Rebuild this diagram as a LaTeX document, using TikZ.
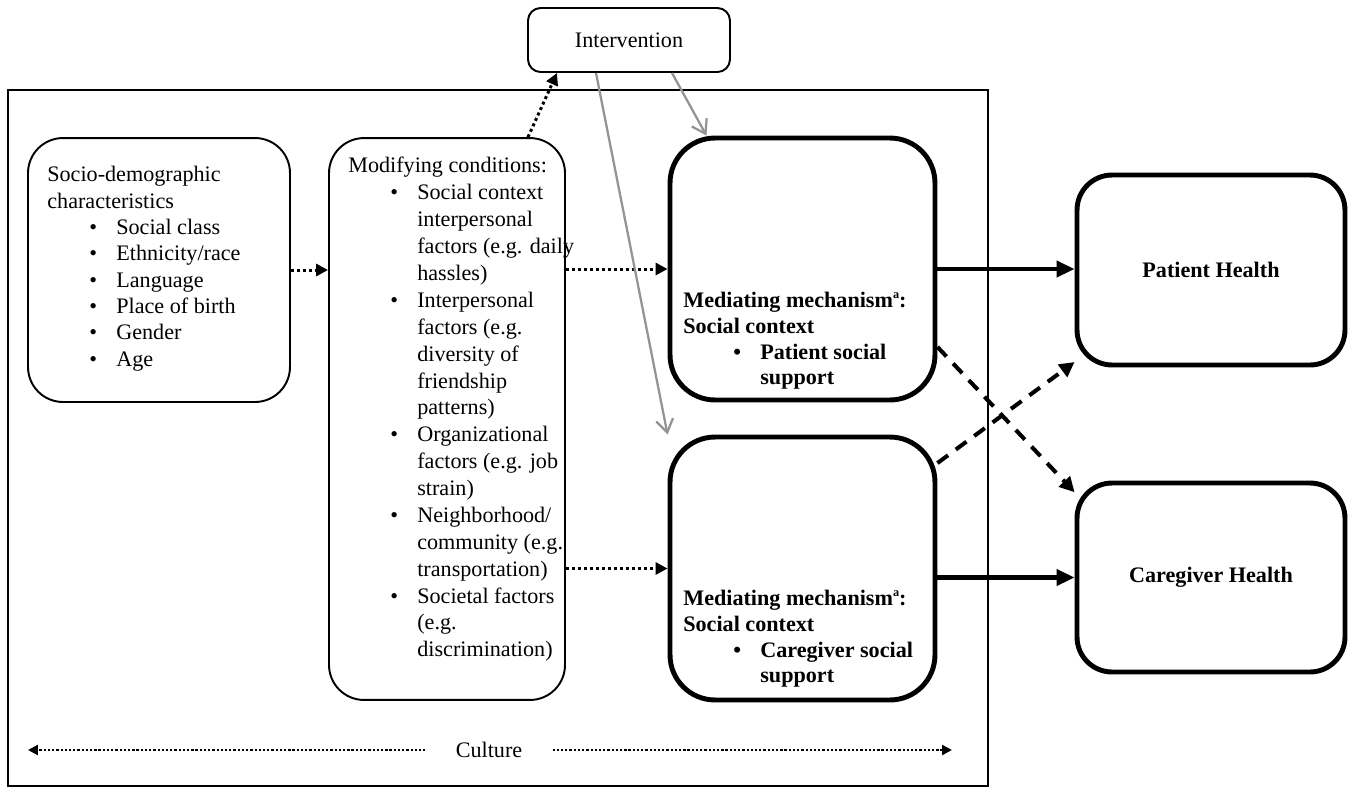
\documentclass[tikz,border=0pt]{standalone}
\usepackage{fontspec}
\setmainfont{Liberation Serif}
\usetikzlibrary{arrows.meta,calc}
\newcommand{\bl}[1]{\hspace*{0.84cm}\makebox[0.54cm][l]{\textbullet}#1}
\newcommand{\bc}[1]{\hspace*{1.38cm}#1}

\begin{document}
\begin{tikzpicture}[x=0.02cm,y=-0.02cm,
  every node/.style={font=\fontsize{12.6}{15}\selectfont},
  box/.style={draw, line width=1.1pt, rounded corners=0.7cm, inner sep=0},
  bigbox/.style={draw, line width=2.8pt, rounded corners=0.9cm, inner sep=0},
  txt/.style={align=left, anchor=north west, inner sep=0},
  dots/.style={line width=1.7pt, dash pattern=on 1.7pt off 1.7pt, -{Triangle[length=0.24cm,width=0.24cm]}},
  thinDots/.style={line width=1.3pt, dash pattern=on 1.3pt off 1.1pt, -{Triangle[length=0.2cm,width=0.2cm]}},
  thickArr/.style={line width=2.3pt, -{Triangle[length=0.36cm,width=0.32cm]}},
  dashArr/.style={line width=2.3pt, dash pattern=on 7.5pt off 5.5pt, -{Triangle[length=0.3cm,width=0.3cm]}},
  grayArr/.style={draw=black!42, line width=1.3pt, -{Straight Barb[length=0.26cm,width=0.34cm]}}]
  \useasboundingbox (0,0) rectangle (1353,789);
  \draw[line width=1pt] (8,90) rectangle (988,786);
  % boxes
  \node[box, rounded corners=0.25cm, minimum width=4.04cm, minimum height=1.28cm] at (629,40) (int) {Intervention};
  \node[box, minimum width=5.24cm, minimum height=5.28cm] at (159,270) (socio) {};
  \node[box, minimum width=4.72cm, minimum height=11.24cm] at (447,419) (mod) {};
  \node[bigbox, minimum width=5.3cm, minimum height=5.24cm] at (802.5,269) (medA) {};
  \node[bigbox, minimum width=5.3cm, minimum height=5.26cm] at (802.5,568.5) (medB) {};
  \node[bigbox, rounded corners=0.7cm, minimum width=5.36cm, minimum height=3.8cm, font=\fontsize{12.6}{15}\selectfont\bfseries] at (1211,270) (pat) {Patient Health};
  \node[bigbox, rounded corners=0.7cm, minimum width=5.36cm, minimum height=3.78cm, font=\fontsize{12.6}{15}\selectfont\bfseries] at (1211,577.5) (care) {Caregiver Health};
  % texts
  \node[txt] at (47,166) (sociot) {Socio-demographic\\characteristics\\\bl{Social class}\\\bl{Ethnicity/race}\\\bl{Language}\\\bl{Place of birth}\\\bl{Gender}\\\bl{Age}};
  \node[txt, font=\fontsize{12.6}{15.3}\selectfont] at (348,157) (modt) {Modifying conditions:\\\bl{Social context}\\\bc{interpersonal}\\\bc{factors (e.g. daily}\\\bc{hassles)}\\\bl{Interpersonal}\\\bc{factors (e.g.}\\\bc{diversity of}\\\bc{friendship}\\\bc{patterns)}\\\bl{Organizational}\\\bc{factors (e.g. job}\\\bc{strain)}\\\bl{Neighborhood/}\\\bc{community (e.g.}\\\bc{transportation)}\\\bl{Societal factors}\\\bc{(e.g.}\\\bc{discrimination)}};
  \node[txt, font=\fontsize{12.6}{14.6}\selectfont\bfseries] at (683,292) (medAt) {Mediating mechanism\raisebox{0.9ex}{\scriptsize a}:\\Social context\\\hspace*{0.16cm}\bl{Patient social}\\\hspace*{0.16cm}\bc{support}};
  \node[txt, font=\fontsize{12.6}{14.6}\selectfont\bfseries] at (683,590) (medBt) {Mediating mechanism\raisebox{0.9ex}{\scriptsize a}:\\Social context\\\hspace*{0.16cm}\bl{Caregiver social}\\\hspace*{0.16cm}\bc{support}};
  \node[inner ysep=0, inner xsep=0.6cm] at (489,750) (cult) {Culture};
  \coordinate (cl) at (28,750);
  \coordinate (cr) at (952,750);
  % connectors
  \draw[dots] (socio.east) -- (socio.east -| mod.west);
  \foreach \m in {medA,medB} \draw[dots] (\m.west -| mod.east) -- (\m.west);
  \draw[dots] ($(mod.north)+(81,0)$) -- ($(int.south)+(-72,0)$);
  \draw[thickArr] (medA.east) -- (medA.east -| pat.west);
  \draw[thickArr] (care.west -| medB.east) -- (care.west);
  \draw[dashArr] (medA.-30) -- (care.148);
  \draw[dashArr] (medB.38) -- (pat.214);
  \draw[grayArr] ($(int.south)+(-33,0)$) -- (medB.north west);
  \draw[grayArr] ($(int.south)+(43,0)$) -- ($(medA.north)+(-96,0)$);
  \foreach \a/\b in {cult.west/cl,cult.east/cr} \draw[thinDots] (\a) -- (\b);
\end{tikzpicture}
\end{document}
